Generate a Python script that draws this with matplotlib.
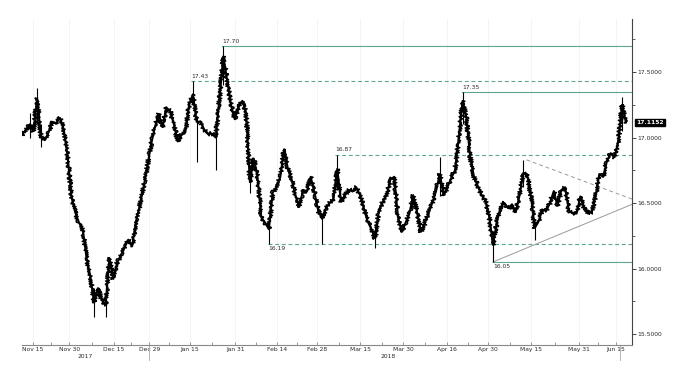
import matplotlib
matplotlib.use("Agg")
import matplotlib.pyplot as plt
from matplotlib.ticker import FixedLocator, MultipleLocator, FormatStrFormatter

# daily closing level, one value per trading bar (Nov 10 2017 -> Jun 20 2018)
close = [
    17.02, 17.06, 17.10, 17.05, 17.30, 17.00, 16.98, 17.04, 17.12, 17.11,
    17.15, 17.06, 16.86, 16.55, 16.43, 16.35, 16.30, 16.08, 15.94, 15.74,
    15.85, 15.76, 15.72, 16.08, 15.92, 16.04, 16.10, 16.16, 16.22, 16.17,
    16.36, 16.48, 16.62, 16.78, 16.95, 17.08, 17.18, 17.08, 17.23, 17.20,
    17.10, 16.97, 17.02, 17.04, 17.25, 17.33, 17.12, 17.12, 17.06, 17.03,
    17.03, 17.00, 17.30, 17.62, 17.44, 17.25, 17.14, 17.23, 17.28, 17.19,
    16.66, 16.84, 16.70, 16.39, 16.35, 16.30, 16.58, 16.62, 16.70, 16.91,
    16.76, 16.68, 16.56, 16.47, 16.60, 16.59, 16.70, 16.58, 16.44, 16.38,
    16.46, 16.50, 16.53, 16.76, 16.51, 16.56, 16.60, 16.59, 16.62, 16.56,
    16.46, 16.36, 16.30, 16.23, 16.45, 16.51, 16.56, 16.68, 16.70, 16.39,
    16.28, 16.35, 16.42, 16.56, 16.43, 16.28, 16.34, 16.42, 16.50, 16.59,
    16.72, 16.56, 16.62, 16.69, 16.75, 17.00, 17.28, 17.15, 16.85, 16.70,
    16.63, 16.56, 16.52, 16.40, 16.18, 16.35, 16.47, 16.50, 16.46, 16.49,
    16.43, 16.56, 16.73, 16.72, 16.55, 16.31, 16.36, 16.45, 16.44, 16.50,
    16.59, 16.48, 16.60, 16.62, 16.44, 16.42, 16.42, 16.55, 16.46, 16.42,
    16.43, 16.55, 16.72, 16.70, 16.82, 16.88, 16.85, 16.97, 17.25, 17.1152,
]

# notable intraday wicks: bar, low, high
wick_bar = [2, 4, 5, 19, 22, 45, 46, 51, 53, 60, 65, 79, 83, 93, 110, 116, 124, 132, 135, 158]
wick_lo = [17.00, 17.10, 16.93, 15.63, 15.63, 17.25, 16.81, 16.75, 17.40, 16.58,
           16.19, 16.19, 16.60, 16.16, 16.55, 17.10, 16.05, 16.62, 16.22, 17.05]
wick_hi = [17.19, 17.38, 17.10, 15.85, 15.80, 17.43, 17.15, 17.05, 17.70, 16.75,
           16.40, 16.42, 16.87, 16.32, 16.85, 17.35, 16.25, 16.83, 16.35, 17.31]

# support / resistance levels: value, first bar, label side, dashed?
level_val = [17.70, 17.43, 17.35, 16.87, 16.19, 16.05]
level_bar = [52.7, 44.6, 115.9, 82.5, 64.8, 124.0]
level_above = [True, True, True, True, False, False]
level_dash = [False, True, False, True, True, False]

# triangle boundaries
tri_lower = ([124.0, 160.6], [16.05, 16.49])
tri_upper = ([132.8, 160.6], [16.83, 16.53])

tick_labels = ["Nov 15", "Nov 30", "Dec 15", "Dec 29", "Jan 15", "Jan 31", "Feb 14",
               "Feb 28", "Mar 15", "Mar 30", "Apr 16", "Apr 30", "May 15", "May 31", "Jun 15"]
tick_bars = [2.9, 12.5, 24.1, 33.5, 44.1, 56.2, 67.1, 77.7, 89.1, 100.4, 111.9,
             122.7, 134.1, 146.7, 156.4]
years = ["2017", "2018"]
year_bars = [16.7, 96.4]

last = close[-1]
XMAX = 160.6
LEVEL_C = "#5fa492"
TXT_C = "#2a2a2a"

fig = plt.figure(figsize=(6.73, 3.74), dpi=100)
ax = fig.add_axes([22 / 673, 29 / 374, 610 / 673, 326 / 374])

# faint vertical grid
for b in tick_bars:
    ax.axvline(b, color="#f2f2f2", lw=0.6, zorder=0)

x = list(range(len(close)))
ax.vlines(wick_bar, wick_lo, wick_hi, color="black", lw=0.8, zorder=3)
# rough, bar-chart-like texture for the price trace
price, = ax.plot(x, close, color="black", lw=1.1, zorder=3)
price.set_sketch_params(scale=2.2, length=1.5, randomness=3)
core, = ax.plot(x, close, color="black", lw=1.5, zorder=3)

for v, b, above, dash in zip(level_val, level_bar, level_above, level_dash):
    ax.plot([b, XMAX], [v, v], color=LEVEL_C, lw=0.8,
            ls=(0, (3.5, 2.5)) if dash else "-", zorder=2)
    ax.annotate(f"{v:.2f}", (b, v), xytext=(0, 1.5 if above else -1.5),
                textcoords="offset points", ha="left",
                va="bottom" if above else "top", fontsize=4.3, color=TXT_C)

ax.plot(*tri_lower, color="#9a9a9a", lw=0.7, zorder=2)
ax.plot(*tri_upper, color="#9a9a9a", lw=0.7, ls=(0, (4, 3)), zorder=2)

ax.set_xlim(0, XMAX)
ax.set_ylim(15.416, 17.905)

for s in ["left", "top"]:
    ax.spines[s].set_visible(False)
ax.spines["right"].set_color("#444444")
ax.spines["bottom"].set_color("#888888")
ax.spines["right"].set_linewidth(0.8)
ax.spines["bottom"].set_linewidth(0.8)

ax.yaxis.tick_right()
ax.yaxis.set_major_locator(MultipleLocator(0.5))
ax.yaxis.set_minor_locator(MultipleLocator(0.25))
ax.yaxis.set_major_formatter(FormatStrFormatter("%.4f"))
ax.tick_params(axis="y", which="major", length=3, width=0.7, pad=1,
               labelsize=4.3, labelcolor=TXT_C, color="#444444")
ax.tick_params(axis="y", which="minor", length=2, width=0.6, color="#444444")

ax.xaxis.set_major_locator(FixedLocator(tick_bars))
ax.set_xticklabels(tick_labels)
mids = [(a + b) / 2 for a, b in zip(tick_bars[:-1], tick_bars[1:])]
ax.xaxis.set_minor_locator(FixedLocator(mids))
ax.tick_params(axis="x", which="both", direction="in", length=2, width=0.6,
               color="#888888", pad=1.5, labelsize=4.3, labelcolor=TXT_C)

for yl, yb in zip(years, year_bars):
    ax.text(yb, -0.027, yl, transform=ax.get_xaxis_transform(),
            ha="center", va="top", fontsize=4.3, color=TXT_C)
# year boundary and end markers below the axis
for b in [tick_bars[3], 157.5]:
    ax.plot([b, b], [0, -0.045], transform=ax.get_xaxis_transform(),
            color="#aaaaaa", lw=0.6, clip_on=False)

ax.annotate(f"{last:.4f}", xy=(1, last), xycoords=("axes fraction", "data"),
            xytext=(3, 0), textcoords="offset points", ha="left", va="center",
            fontsize=4.3, color="white", fontweight="bold",
            bbox=dict(boxstyle="square,pad=0.2", fc="black", ec="black"))

fig.savefig("out.png", dpi=100)
